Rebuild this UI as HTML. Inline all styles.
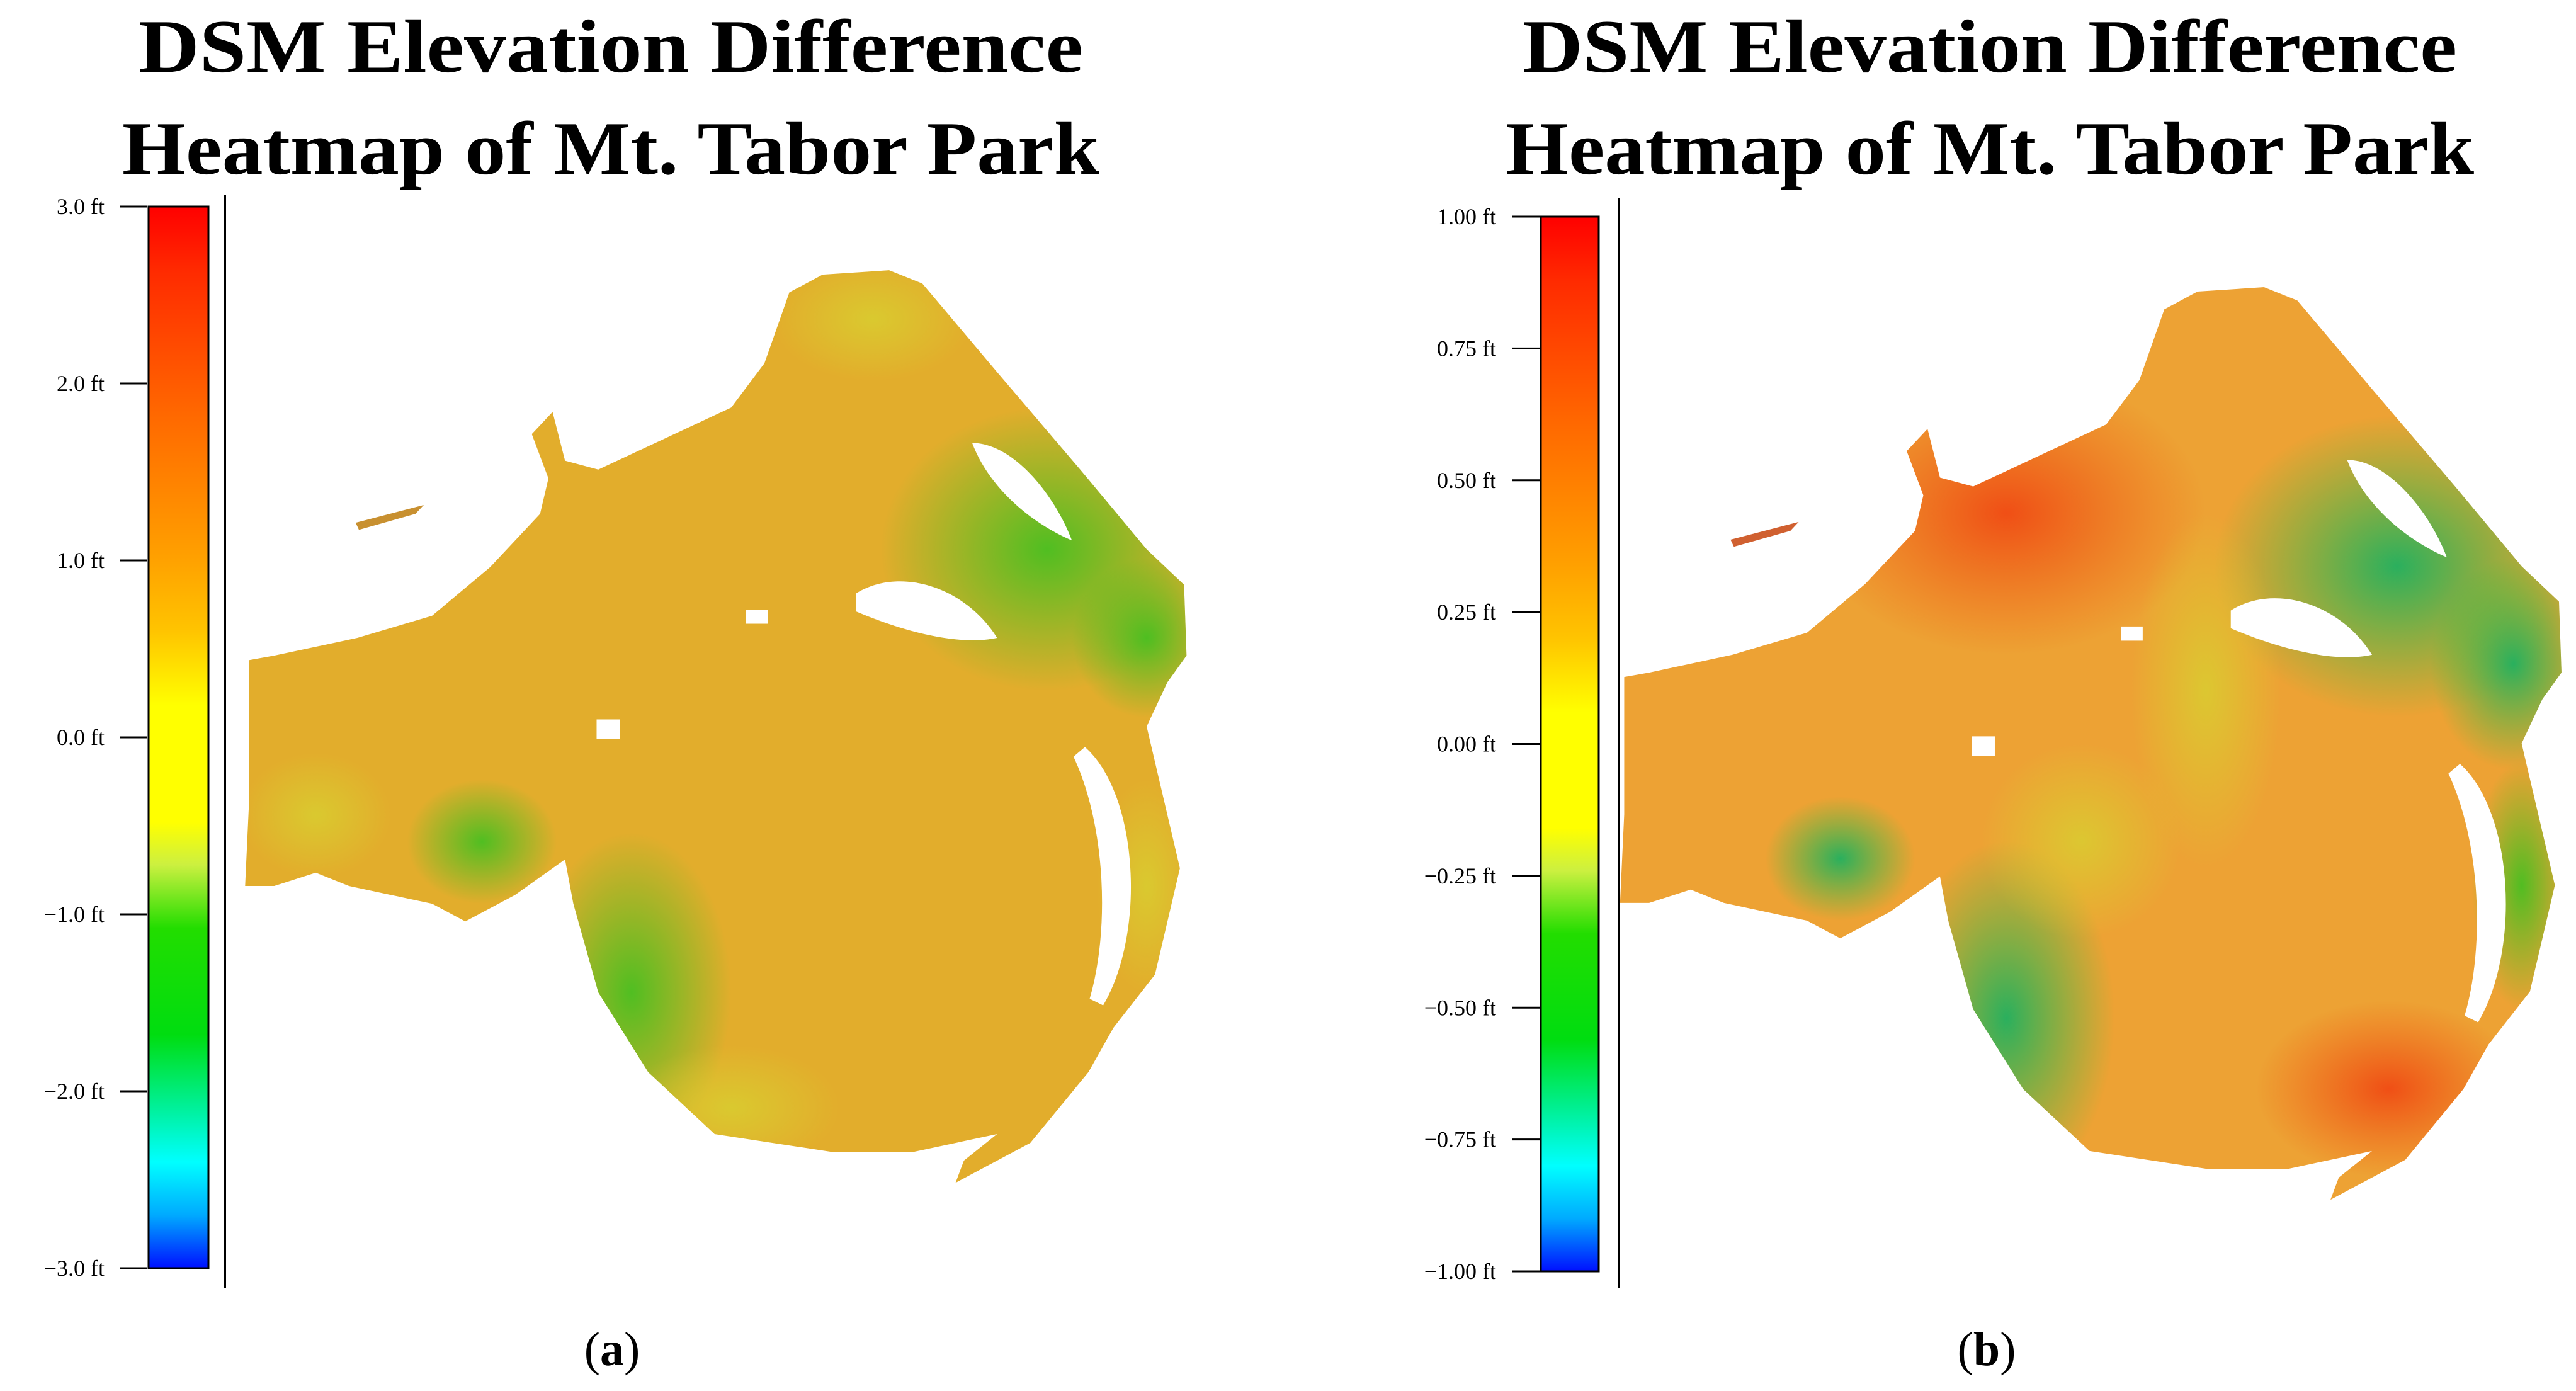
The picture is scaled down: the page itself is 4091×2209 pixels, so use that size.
<!DOCTYPE html>
<html><head><meta charset="utf-8"><style>
html,body{margin:0;padding:0;background:#fff;}
svg{display:block;}
</style></head><body>
<svg id="fig" width="4091" height="2209" viewBox="0 0 4091 2209" xmlns="http://www.w3.org/2000/svg">
<defs>
<linearGradient id="cbar" x1="0" y1="0" x2="0" y2="1">
<stop offset="0" stop-color="#ff0000"/><stop offset="0.06" stop-color="#ff2a00"/>
<stop offset="0.2" stop-color="#ff6a00"/><stop offset="0.33" stop-color="#ffa000"/>
<stop offset="0.4" stop-color="#ffc400"/><stop offset="0.47" stop-color="#ffff00"/>
<stop offset="0.58" stop-color="#ffff00"/><stop offset="0.62" stop-color="#ccf040"/>
<stop offset="0.68" stop-color="#22dd00"/><stop offset="0.78" stop-color="#00dd10"/>
<stop offset="0.84" stop-color="#00ee88"/><stop offset="0.9" stop-color="#00ffff"/>
<stop offset="0.95" stop-color="#00aaff"/><stop offset="1" stop-color="#0010ff"/>
</linearGradient>
<path id="park" d="M300,745 L330,740 L430,720 L520,695 L590,640 L650,580 L660,540 L640,490 L665,465 L680,520 L720,530 L800,495 L880,460 L920,410 L950,330 L990,310 L1070,305 L1110,320 L1200,420 L1300,530 L1380,620 L1425,660 L1428,740 L1405,770 L1380,820 L1420,980 L1390,1100 L1340,1160 L1310,1210 L1240,1290 L1150,1335 L1160,1310 L1200,1280 L1100,1300 L1000,1300 L860,1280 L780,1210 L720,1120 L690,1020 L680,970 L620,1010 L560,1040 L520,1020 L470,1010 L420,1000 L380,985 L330,1000 L295,1000 L300,900 Z"/>
<clipPath id="clipPark"><use href="#park"/></clipPath>
<radialGradient id="grn" cx="0.5" cy="0.5" r="0.5"><stop offset="0" stop-color="#40c020" stop-opacity="0.9"/><stop offset="1" stop-color="#40c020" stop-opacity="0"/></radialGradient>
<radialGradient id="grnb" cx="0.5" cy="0.5" r="0.5"><stop offset="0" stop-color="#20b060" stop-opacity="0.95"/><stop offset="1" stop-color="#30c040" stop-opacity="0"/></radialGradient>
<radialGradient id="red" cx="0.5" cy="0.5" r="0.5"><stop offset="0" stop-color="#f04010" stop-opacity="0.85"/><stop offset="1" stop-color="#f05010" stop-opacity="0"/></radialGradient>
<radialGradient id="ylw" cx="0.5" cy="0.5" r="0.5"><stop offset="0" stop-color="#d8d030" stop-opacity="0.8"/><stop offset="1" stop-color="#d8d030" stop-opacity="0"/></radialGradient>
</defs>

<!-- Panel A -->
<g>
<text x="970" y="114" text-anchor="middle" font-family="Liberation Serif, serif" font-weight="bold" font-size="120" textLength="1500" lengthAdjust="spacingAndGlyphs">DSM Elevation Difference</text>
<text x="970" y="276" text-anchor="middle" font-family="Liberation Serif, serif" font-weight="bold" font-size="120" textLength="1552" lengthAdjust="spacingAndGlyphs">Heatmap of Mt. Tabor Park</text>
<rect x="236" y="328" width="95" height="1686" fill="url(#cbar)" stroke="#000" stroke-width="3"/>
<line x1="357" y1="309" x2="357" y2="2046" stroke="#000" stroke-width="4"/>
<g id="ticksA"></g>
<g transform="scale(1.3196,1.407)">
<use href="#park" fill="#e2ad2c"/>
<g clip-path="url(#clipPark)">
<ellipse cx="1260" cy="620" rx="200" ry="160" fill="url(#grn)"/>
<ellipse cx="1380" cy="720" rx="90" ry="90" fill="url(#grn)"/>
<ellipse cx="760" cy="1120" rx="120" ry="180" fill="url(#grn)"/>
<ellipse cx="880" cy="1250" rx="130" ry="70" fill="url(#ylw)"/>
<ellipse cx="580" cy="950" rx="90" ry="70" fill="url(#grn)"/>
<ellipse cx="380" cy="920" rx="90" ry="70" fill="url(#ylw)"/>
<ellipse cx="1050" cy="360" rx="120" ry="70" fill="url(#ylw)"/>
<ellipse cx="1380" cy="1000" rx="60" ry="120" fill="url(#ylw)"/>
</g>
<path d="M1030,670 C1080,640 1160,660 1200,720 C1150,730 1080,710 1030,690 Z" fill="#fff"/>
<path d="M1170,500 C1220,500 1270,560 1290,610 C1240,590 1190,550 1170,500 Z" fill="#fff"/>
<path d="M1300,850 C1360,900 1370,1050 1320,1130 C1345,1050 1340,930 1300,850 Z" fill="#fff" stroke="#fff" stroke-width="18"/>
<rect x="718" y="812" width="28" height="22" fill="#fff"/><rect x="898" y="688" width="26" height="16" fill="#fff"/>
<path d="M428,590 L510,570 L500,580 L432,598 Z" fill="#c89030"/>
</g>
<text x="972" y="2168" text-anchor="middle" font-family="Liberation Serif, serif" font-size="76">(<tspan font-weight="bold">a</tspan>)</text>
</g>

<!-- Panel B -->
<g>
<text x="3160" y="114" text-anchor="middle" font-family="Liberation Serif, serif" font-weight="bold" font-size="120" textLength="1484" lengthAdjust="spacingAndGlyphs">DSM Elevation Difference</text>
<text x="3160" y="276" text-anchor="middle" font-family="Liberation Serif, serif" font-weight="bold" font-size="120" textLength="1538" lengthAdjust="spacingAndGlyphs">Heatmap of Mt. Tabor Park</text>
<rect x="2457" y="344" width="92" height="1675" fill="url(#cbar)" stroke="#000" stroke-width="3" transform="translate(-10,0)"/>
<line x1="2571" y1="315" x2="2571" y2="2046" stroke="#000" stroke-width="4"/>
<g id="ticksB"></g>
<g transform="translate(2045,10) scale(1.3196,1.407) translate(105,12)">
<use href="#park" fill="#eda234"/>
<g clip-path="url(#clipPark)">
<ellipse cx="760" cy="560" rx="240" ry="160" fill="url(#red)"/>
<ellipse cx="1220" cy="1210" rx="160" ry="100" fill="url(#red)"/>
<ellipse cx="1230" cy="620" rx="220" ry="170" fill="url(#grnb)"/>
<ellipse cx="1370" cy="730" rx="100" ry="120" fill="url(#grnb)"/>
<ellipse cx="760" cy="1130" rx="130" ry="200" fill="url(#grnb)"/>
<ellipse cx="850" cy="930" rx="120" ry="110" fill="url(#ylw)"/>
<ellipse cx="1000" cy="760" rx="90" ry="200" fill="url(#ylw)"/>
<ellipse cx="560" cy="950" rx="90" ry="70" fill="url(#grnb)"/>
<ellipse cx="1380" cy="980" rx="60" ry="140" fill="url(#grn)"/>
</g>
<path d="M1030,670 C1080,640 1160,660 1200,720 C1150,730 1080,710 1030,690 Z" fill="#fff"/>
<path d="M1170,500 C1220,500 1270,560 1290,610 C1240,590 1190,550 1170,500 Z" fill="#fff"/>
<path d="M1300,850 C1360,900 1370,1050 1320,1130 C1345,1050 1340,930 1300,850 Z" fill="#fff" stroke="#fff" stroke-width="18"/>
<rect x="718" y="812" width="28" height="22" fill="#fff"/><rect x="898" y="688" width="26" height="16" fill="#fff"/>
<path d="M428,590 L510,570 L500,580 L432,598 Z" fill="#d06030"/>
</g>
<text x="3155" y="2168" text-anchor="middle" font-family="Liberation Serif, serif" font-size="76">(<tspan font-weight="bold">b</tspan>)</text>
</g>
</svg>
<script>
const ticksA = ["3.0 ft","2.0 ft","1.0 ft","0.0 ft","\u22121.0 ft","\u22122.0 ft","\u22123.0 ft"];
const ticksB = ["1.00 ft","0.75 ft","0.50 ft","0.25 ft","0.00 ft","\u22120.25 ft","\u22120.50 ft","\u22120.75 ft","\u22121.00 ft"];
const NS = "http://www.w3.org/2000/svg";
function drawTicks(gid, labels, top, bottom, tx1, tx2, lx) {
  const g = document.getElementById(gid);
  const n = labels.length;
  labels.forEach((lab, i) => {
    const y = top + (bottom - top) * i / (n - 1);
    const l = document.createElementNS(NS, "line");
    
    
    l.setAttribute("x1", tx1); l.setAttribute("x2", tx2);
    l.setAttribute("y1", y); l.setAttribute("y2", y);
    l.setAttribute("stroke", "#000"); l.setAttribute("stroke-width", "3");
    g.appendChild(l);
    const t = document.createElementNS(NS, "text");
    
    
    t.setAttribute("x", lx); t.setAttribute("y", y + 12);
    t.setAttribute("text-anchor", "end");
    t.setAttribute("font-family", "Liberation Serif, serif");
    t.setAttribute("font-size", "36");
    t.textContent = lab;
    g.appendChild(t);
  });
}
drawTicks("ticksA", ticksA, 328, 2014, 190, 234, 166);
drawTicks("ticksB", ticksB, 344, 2019, 2402, 2445, 2376);
</script>
</body></html>
